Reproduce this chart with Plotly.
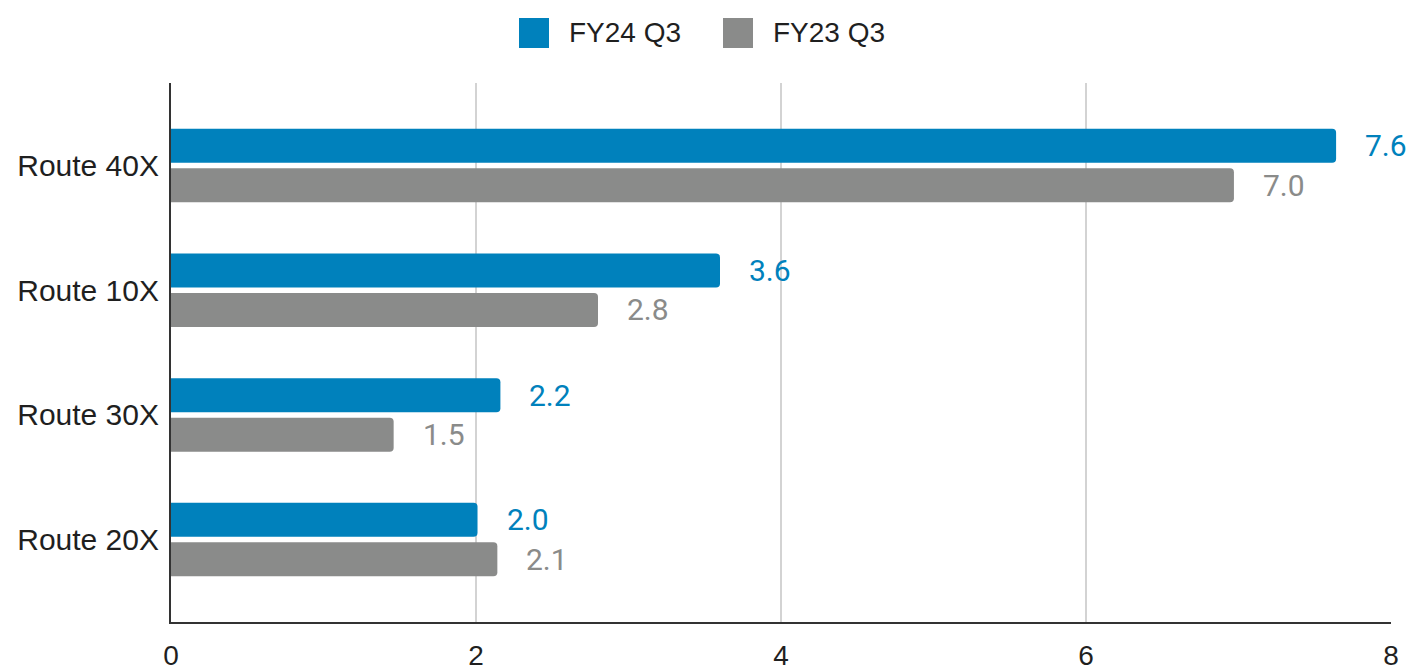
import plotly.graph_objects as go

categories = ["Route 40X", "Route 10X", "Route 30X", "Route 20X"]
fy24_q3 = [7.64, 3.60, 2.16, 2.01]
fy23_q3 = [6.97, 2.80, 1.46, 2.14]
series_names = ["FY24 Q3", "FY23 Q3"]
x_ticks = [0, 2, 4, 6, 8]

BLUE = "#0081BC"
GREY = "#8A8B8A"
TXT = "#1f1f1f"
SANS = "Arial, Liberation Sans, sans-serif"
ROBOTO = "Roboto, sans-serif"

fig = go.Figure()
for name, vals, col in [(series_names[0], fy24_q3, BLUE), (series_names[1], fy23_q3, GREY)]:
    fig.add_trace(go.Bar(
        y=categories, x=vals, name=name, orientation="h",
        marker=dict(color=col, cornerradius=4, line=dict(width=0)),
        showlegend=False, hoverinfo="x+name",
    ))

# data labels
off = 0.158
annos = []
for i, c in enumerate(categories):
    for vals, col, dy in [(fy24_q3, BLUE, -off), (fy23_q3, GREY, off)]:
        annos.append(dict(
            x=vals[i], y=i + dy, xref="x", yref="y", text=f"{vals[i]:.1f}",
            showarrow=False, xanchor="left", yanchor="middle", xshift=27,
            font=dict(family=ROBOTO, size=30, color=col),
        ))

# custom legend (screen-pixel positions mapped to paper coords)
W, H = 1220.0, 539.0
L, T = 171.0, 83.0
def px(xp):
    return (xp - L) / W
def py(yp):
    return (T + H - yp) / H

shapes = []
for name, col, x0, tx in [(series_names[0], BLUE, 519, 567), (series_names[1], GREY, 723, 771)]:
    shapes.append(dict(type="rect", xref="paper", yref="paper",
                       x0=px(x0), x1=px(x0 + 30), y0=py(48), y1=py(18),
                       fillcolor=col, line=dict(width=0)))
    annos.append(dict(x=px(tx), y=py(33), xref="paper", yref="paper", text=name,
                      showarrow=False, xanchor="left", yanchor="middle",
                      font=dict(family=SANS, size=28, color=TXT)))

fig.update_layout(
    width=1408, height=662,
    margin=dict(l=163, r=25, t=75, b=48, autoexpand=False),
    paper_bgcolor="white", plot_bgcolor="white",
    barmode="group", bargap=0.366, bargroupgap=0.14,
    annotations=annos, shapes=shapes,
    font=dict(family=SANS, size=28, color=TXT),
    xaxis=dict(range=[0, 8], tickvals=x_ticks, showgrid=True, gridcolor="#D3D3D3",
               gridwidth=2, zeroline=False, showline=True, linecolor="#333333",
               linewidth=2, ticks="", ticklabelstandoff=7, automargin=False,
               tickfont=dict(family=SANS, size=28, color=TXT)),
    yaxis=dict(type="category", categoryorder="array", categoryarray=categories,
               range=[3.661, -0.662], showgrid=False, zeroline=False,
               showline=True, linecolor="#333333", linewidth=2, ticks="",
               ticklabelstandoff=4, automargin=False,
               tickfont=dict(family=SANS, size=30, color=TXT)),
)

fig.write_html("out.html")
